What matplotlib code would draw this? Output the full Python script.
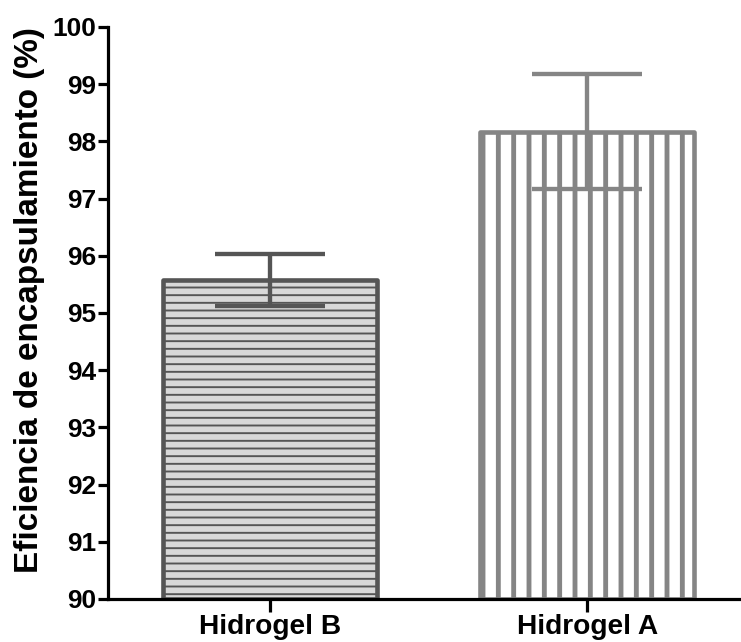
import matplotlib.pyplot as plt

# encapsulation efficiency per hydrogel (mean and SD)
groups = ["Hidrogel B", "Hidrogel A"]
means = [95.58, 98.17]
sds = [0.45, 1.0]

DPI = 92


def make_bar_plot():
    plt.rcParams['font.family'] = ['Liberation Sans', 'DejaVu Sans']
    plt.rcParams['font.weight'] = 'bold'
    fig = plt.figure(figsize=(741 / DPI, 642 / DPI), dpi=DPI)
    ax = fig.add_axes([0.1457, 0.067, 0.8543, 0.891])

    x = list(range(len(groups)))
    styles = [
        dict(face="#d8d8d8", edge="#555555", hatch="--", hlw=1.5),
        dict(face="white", edge="#858585", hatch="|", hlw=3.8),
    ]
    for i, st in enumerate(styles):
        bars = ax.bar(x[i], means[i] - 90, bottom=90, width=0.676,
                      facecolor=st['face'], edgecolor=st['edge'],
                      hatch=st['hatch'], linewidth=3.6, joinstyle='round',
                      zorder=2)
        for b in bars:
            b.set_hatch_linewidth(st['hlw'])
        eb = ax.errorbar(x[i], means[i], yerr=sds[i], fmt='none',
                         ecolor=st['edge'], elinewidth=3.4, capsize=43,
                         capthick=3.4, zorder=3)
        for cap in eb[1]:
            cap.set_solid_capstyle('round')

    ax.set_ylim(90, 100)
    ax.set_xlim(-0.51, 1.485)
    ax.set_yticks(range(90, 101))
    ax.set_xticks(x)
    ax.set_xticklabels(groups, fontsize=22, fontweight='bold')
    ax.tick_params(axis='y', labelsize=20.5, width=2.5, length=8, pad=1)
    ax.tick_params(axis='x', width=2.5, length=10, pad=2)
    for lab in ax.get_yticklabels():
        lab.set_fontweight('bold')
    ax.set_ylabel("Eficiencia de encapsulamiento (%)", fontsize=26,
                  fontweight='bold')
    ax.yaxis.set_label_coords(-0.1, 0.523)

    ax.spines['top'].set_visible(False)
    ax.spines['right'].set_visible(False)
    ax.spines['left'].set_linewidth(2.5)
    ax.spines['bottom'].set_linewidth(2.5)
    ax.set_facecolor('none')
    return fig


def main():
    fig = make_bar_plot()
    fig.savefig('out.png', dpi=DPI)


main()
